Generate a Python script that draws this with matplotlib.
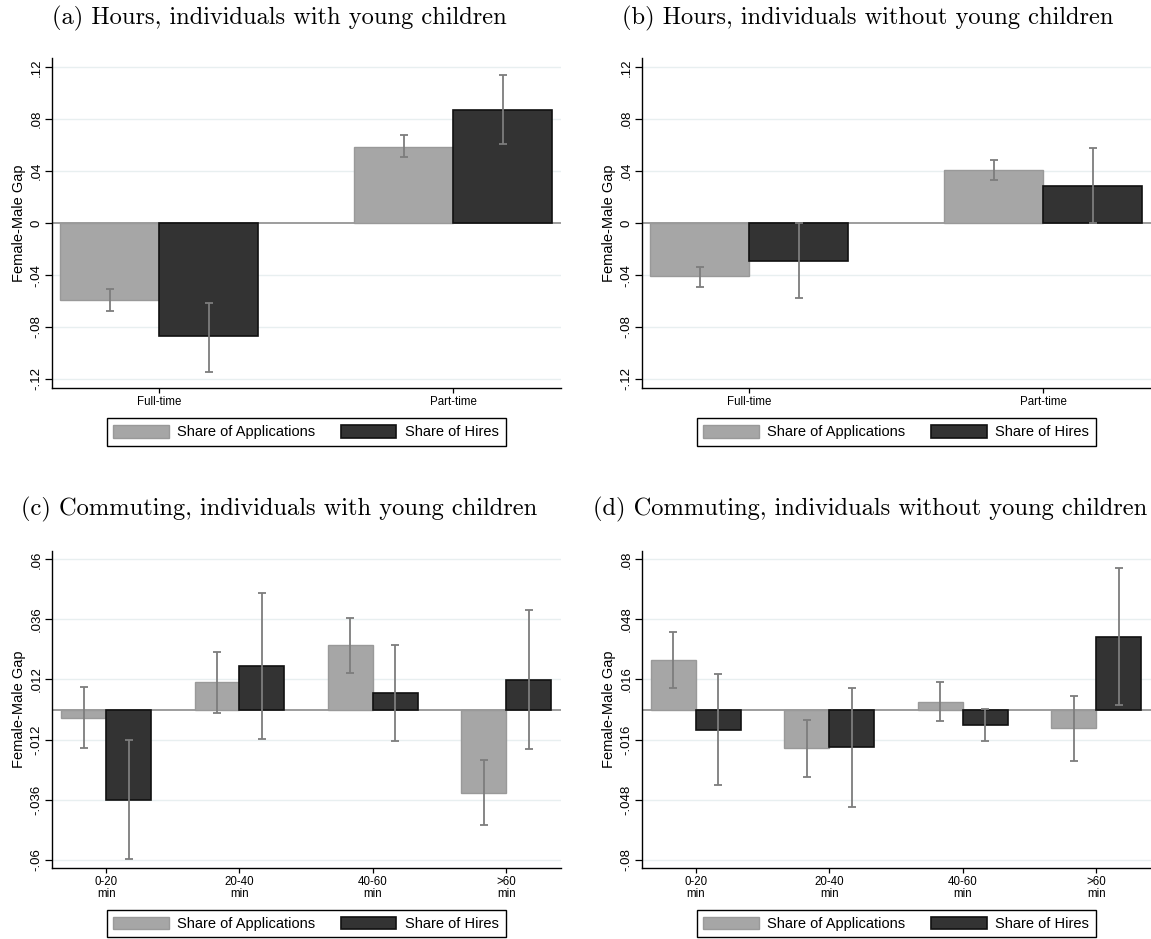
import matplotlib
matplotlib.use("Agg")
import matplotlib.pyplot as plt
from matplotlib.patches import Patch

plt.rcParams['font.family'] = ['Liberation Sans', 'DejaVu Sans']

# ---- data ----
hours_cats = ['Full-time', 'Part-time']
commute_cats = ['0-20\nmin', '20-40\nmin', '40-60\nmin', '>60\nmin']

# (a) hours, with young children
a_app = [-0.059, 0.059]
a_app_lo = [-0.0677, 0.0509]
a_app_hi = [-0.0509, 0.0676]
a_hire = [-0.087, 0.087]
a_hire_lo = [-0.1145, 0.0610]
a_hire_hi = [-0.0612, 0.1144]

# (b) hours, without young children
b_app = [-0.041, 0.041]
b_app_lo = [-0.0490, 0.0332]
b_app_hi = [-0.0335, 0.0488]
b_hire = [-0.0288, 0.0285]
b_hire_lo = [-0.0579, 0.0]
b_hire_hi = [0.0, 0.0576]

# (c) commuting, with young children
c_app = [-0.0033, 0.0108, 0.0256, -0.0332]
c_app_lo = [-0.0155, -0.0015, 0.0144, -0.0460]
c_app_hi = [0.0088, 0.0231, 0.0367, -0.0201]
c_hire = [-0.0360, 0.0173, 0.0067, 0.0119]
c_hire_lo = [-0.0597, -0.0119, -0.0124, -0.0159]
c_hire_hi = [-0.0121, 0.0465, 0.0257, 0.0396]

# (d) commuting, without young children
d_app = [0.0265, -0.0206, 0.0041, -0.0100]
d_app_lo = [0.0117, -0.0357, -0.0059, -0.0272]
d_app_hi = [0.0412, -0.0057, 0.0146, 0.0071]
d_hire = [-0.0107, -0.0201, -0.0082, 0.0388]
d_hire_lo = [-0.0400, -0.0517, -0.0167, 0.0025]
d_hire_hi = [0.0187, 0.0114, 0.0005, 0.0756]

ticks_hours = [-0.12, -0.08, -0.04, 0, 0.04, 0.08, 0.12]
ticks_c = [-0.06, -0.036, -0.012, 0.012, 0.036, 0.06]
ticks_d = [-0.08, -0.048, -0.016, 0.016, 0.048, 0.08]

titles = ['(a) Hours, individuals with young children',
          '(b) Hours, individuals without young children',
          '(c) Commuting, individuals with young children',
          '(d) Commuting, individuals without young children']

APP_C = '#a6a6a6'
HIRE_C = '#333333'
ERR_C = '#7d7d7d'
GRID_C = '#e8eff0'


def fmt(v):
    s = f"{v:g}"
    return s.replace('0.', '.')


def panel(ax, cats, app, app_lo, app_hi, hire, hire_lo, hire_hi,
          yticks, ylim, xlim, leg_y, xfs):
    w = 0.337
    x = list(range(len(cats)))
    xa = [i - w / 2 for i in x]
    xh = [i + w / 2 for i in x]
    for t in yticks:
        if t != 0:
            ax.axhline(t, color=GRID_C, lw=1.0, zorder=0)
    ax.axhline(0, color='#8c8c8c', lw=1.2, zorder=1)
    ax.bar(xa, app, width=w, color=APP_C, edgecolor='#999999', lw=1.0, zorder=2)
    ax.bar(xh, hire, width=w, color=HIRE_C, edgecolor='#111111', lw=1.2, zorder=2)
    ea = [[a - lo for a, lo in zip(app, app_lo)], [hi - a for a, hi in zip(app, app_hi)]]
    eh = [[h - lo for h, lo in zip(hire, hire_lo)], [hi - h for h, hi in zip(hire, hire_hi)]]
    ax.errorbar(xa, app, yerr=ea, fmt='none', ecolor=ERR_C, elinewidth=1.3,
                capsize=2.6, capthick=1.3, zorder=3)
    ax.errorbar(xh, hire, yerr=eh, fmt='none', ecolor=ERR_C, elinewidth=1.3,
                capsize=2.6, capthick=1.3, zorder=3)

    ax.set_xlim(*xlim)
    ax.set_ylim(-ylim, ylim)
    ax.set_xticks(x)
    ax.set_xticklabels(cats, fontsize=xfs, linespacing=0.95)
    ax.set_yticks(yticks)
    ax.set_yticklabels([fmt(t) for t in yticks], fontsize=9.5,
                       rotation=90, va='center')
    ax.tick_params(axis='y', length=5.3, width=0.9, pad=1.5)
    ax.tick_params(axis='x', length=3.6, width=0.9, pad=2)
    for s in ['top', 'right']:
        ax.spines[s].set_visible(False)
    for s in ['left', 'bottom']:
        ax.spines[s].set_color('black')
        ax.spines[s].set_linewidth(1.0)
    ax.set_ylabel('Female-Male Gap', fontsize=10.5, labelpad=3)

    handles = [Patch(facecolor=APP_C, edgecolor='#999999', lw=1.0),
               Patch(facecolor=HIRE_C, edgecolor='#111111', lw=1.2)]
    leg = ax.legend(handles, ['Share of Applications', 'Share of Hires'],
                    ncol=2, loc='center', bbox_to_anchor=(0.5, leg_y),
                    fontsize=10.5, frameon=True, fancybox=False,
                    edgecolor='black', framealpha=1, handlelength=3.8,
                    handleheight=0.96, handletextpad=0.6, columnspacing=1.75,
                    borderpad=0.45, borderaxespad=0)
    leg.get_frame().set_linewidth(1.0)


W, H = 1151, 939
fig = plt.figure(figsize=(W / 100, H / 100), dpi=100)

axw = 508.7
top_ab, bot_ab = 58.3, 388.0
top_cd, bot_cd = 550.7, 868.3

ax_a = fig.add_axes([51.8 / W, 1 - bot_ab / H, axw / W, (bot_ab - top_ab) / H])
ax_b = fig.add_axes([641.9 / W, 1 - bot_ab / H, axw / W, (bot_ab - top_ab) / H])
ax_c = fig.add_axes([51.8 / W, 1 - bot_cd / H, axw / W, (bot_cd - top_cd) / H])
ax_d = fig.add_axes([641.9 / W, 1 - bot_cd / H, axw / W, (bot_cd - top_cd) / H])

panel(ax_a, hours_cats, a_app, a_app_lo, a_app_hi, a_hire, a_hire_lo, a_hire_hi,
      ticks_hours, 0.127, (-0.365, 1.365), -0.1335, 8.3)
panel(ax_b, hours_cats, b_app, b_app_lo, b_app_hi, b_hire, b_hire_lo, b_hire_hi,
      ticks_hours, 0.127, (-0.365, 1.365), -0.1335, 8.3)
panel(ax_c, commute_cats, c_app, c_app_lo, c_app_hi, c_hire, c_hire_lo, c_hire_hi,
      ticks_c, 0.0635, (-0.408, 3.408), -0.1744, 8.3)
panel(ax_d, commute_cats, d_app, d_app_lo, d_app_hi, d_hire, d_hire_lo, d_hire_hi,
      ticks_d, 0.0846, (-0.403, 3.407), -0.1744, 8.3)

title_pos = [(279.7, 24), (867.7, 24), (279.0, 515), (870.0, 515)]
for t, (tx, ty) in zip(titles, title_pos):
    fig.text(tx / W, 1 - ty / H, t, ha='center', va='baseline',
             fontsize=17.6, family='cmr10')

fig.savefig('out.png', dpi=100)
plt.close(fig)
